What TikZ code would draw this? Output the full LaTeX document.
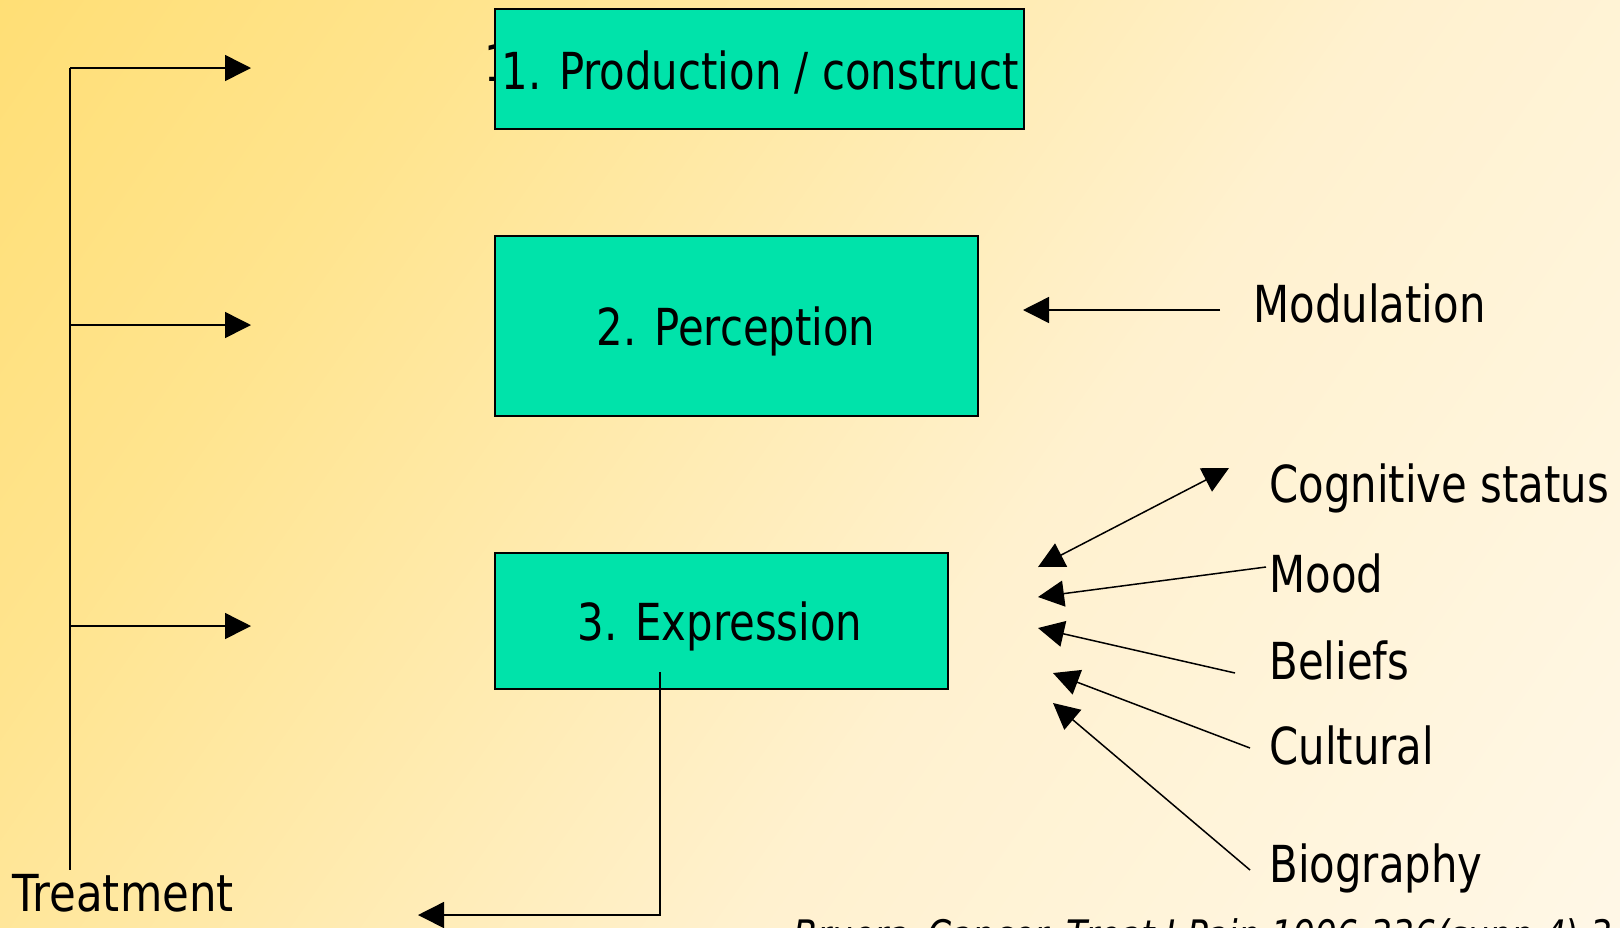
\documentclass[tikz,border=0pt]{standalone}
\usepackage{fontspec}
\setmainfont{DejaVu Sans}[FakeStretch=0.82]
\usetikzlibrary{arrows.meta}
\definecolor{boxgreen}{RGB}{0,227,170}
\definecolor{bgA}{RGB}{255,217,92}
\definecolor{bgB}{RGB}{255,228,142}
\definecolor{bgC}{RGB}{255,241,207}
\definecolor{bgD}{RGB}{255,251,244}
\pgfdeclarehorizontalshading{bgshade}{100bp}{color(0bp)=(bgA); color(30bp)=(bgB); color(58bp)=(bgC); color(100bp)=(bgD)}
\tikzset{
  lbl/.style={inner sep=0pt, anchor=base west, font=\fontsize{25.5}{30}\selectfont},
  ctr/.style={inner sep=0pt, anchor=base, font=\fontsize{25.5}{30}\selectfont},
  cite/.style={inner sep=0pt, anchor=base west, font=\fontsize{21}{25}\selectfont\itshape},
  boxnode/.style={draw=black, line width=0.8pt, fill=boxgreen, anchor=north west, inner sep=0pt},
  conn/.style={line width=0.75pt, -{Triangle[length=13pt,width=13pt]}},
  dconn/.style={line width=0.75pt, {Triangle[length=13pt,width=13pt]}-{Triangle[length=13pt,width=13pt]}},
  plain/.style={line width=0.75pt},
}
\begin{document}
\begin{tikzpicture}[x=0.5pt,y=-0.5pt]
\useasboundingbox (0,0) rectangle (1620,927);
\clip (0,0) rectangle (1620,927);
\fill[shading=bgshade, shading angle=-35] (0,0) rectangle (1620,927);

% ghost glyph behind box 1
\node[lbl] (ghost) at (484,81) {1};

% boxes
\node[boxnode, minimum width=264.5pt, minimum height=60pt] (b1) at (494,8) {};
\node[boxnode, minimum width=241.5pt, minimum height=90pt] (b2) at (494,235) {};
\node[boxnode, minimum width=226.5pt, minimum height=68pt] (b3) at (494,552) {};

\node[ctr] (t1) at (760,89) {1. Production / construct};
\node[ctr] (t2) at (736,345) {2. Perception};
\node[ctr] (t3) at (720,640) {3. Expression};

% labels
\node[lbl] (mod) at (1253,322) {Modulation};
\node[lbl] (cog) at (1269,502) {Cognitive status};
\node[lbl] (mood) at (1269,592) {Mood};
\node[lbl] (bel) at (1269,679) {Beliefs};
\node[lbl] (cul) at (1269,764) {Cultural};
\node[lbl] (bio) at (1269,882) {Biography};
\node[lbl, xscale=1.04] (treat) at (12,911) {Treatment};
\node[cite] (ref) at (793,950) {Bruera\, Cancer\, Treat J Pain 1996;336(supp 4) 3};

% left tree
\coordinate (top) at (70,68);
\coordinate (bot) at (70,870);
\coordinate (a1) at (251,68);
\coordinate (a2) at (251,325);
\coordinate (a3) at (251,626);
\draw[plain] (top) -- (bot);
\draw[conn] (top) -- (a1);
\draw[conn] (bot |- a2) -- (a2);
\draw[conn] (bot |- a3) -- (a3);

% expression to treatment
\coordinate (e1) at (660,672);
\coordinate (e2) at (418,915);
\draw[conn] (e1) |- (e2);

% modulation
\coordinate (m1) at (1220,310);
\coordinate (m2) at (1023,310);
\draw[conn] (m1) -- (m2);

% right fan
\coordinate (c1) at (1229,468);
\coordinate (c2) at (1038,567);
\draw[dconn] (c1) -- (c2);
\coordinate (d1) at (1266,567);
\coordinate (d2) at (1038,597);
\draw[conn] (d1) -- (d2);
\coordinate (f1) at (1235,673);
\coordinate (f2) at (1038,628);
\draw[conn] (f1) -- (f2);
\coordinate (g1) at (1250,748);
\coordinate (g2) at (1053,673);
\draw[conn] (g1) -- (g2);
\coordinate (h1) at (1250,870);
\coordinate (h2) at (1053,703);
\draw[conn] (h1) -- (h2);
\end{tikzpicture}
\end{document}
